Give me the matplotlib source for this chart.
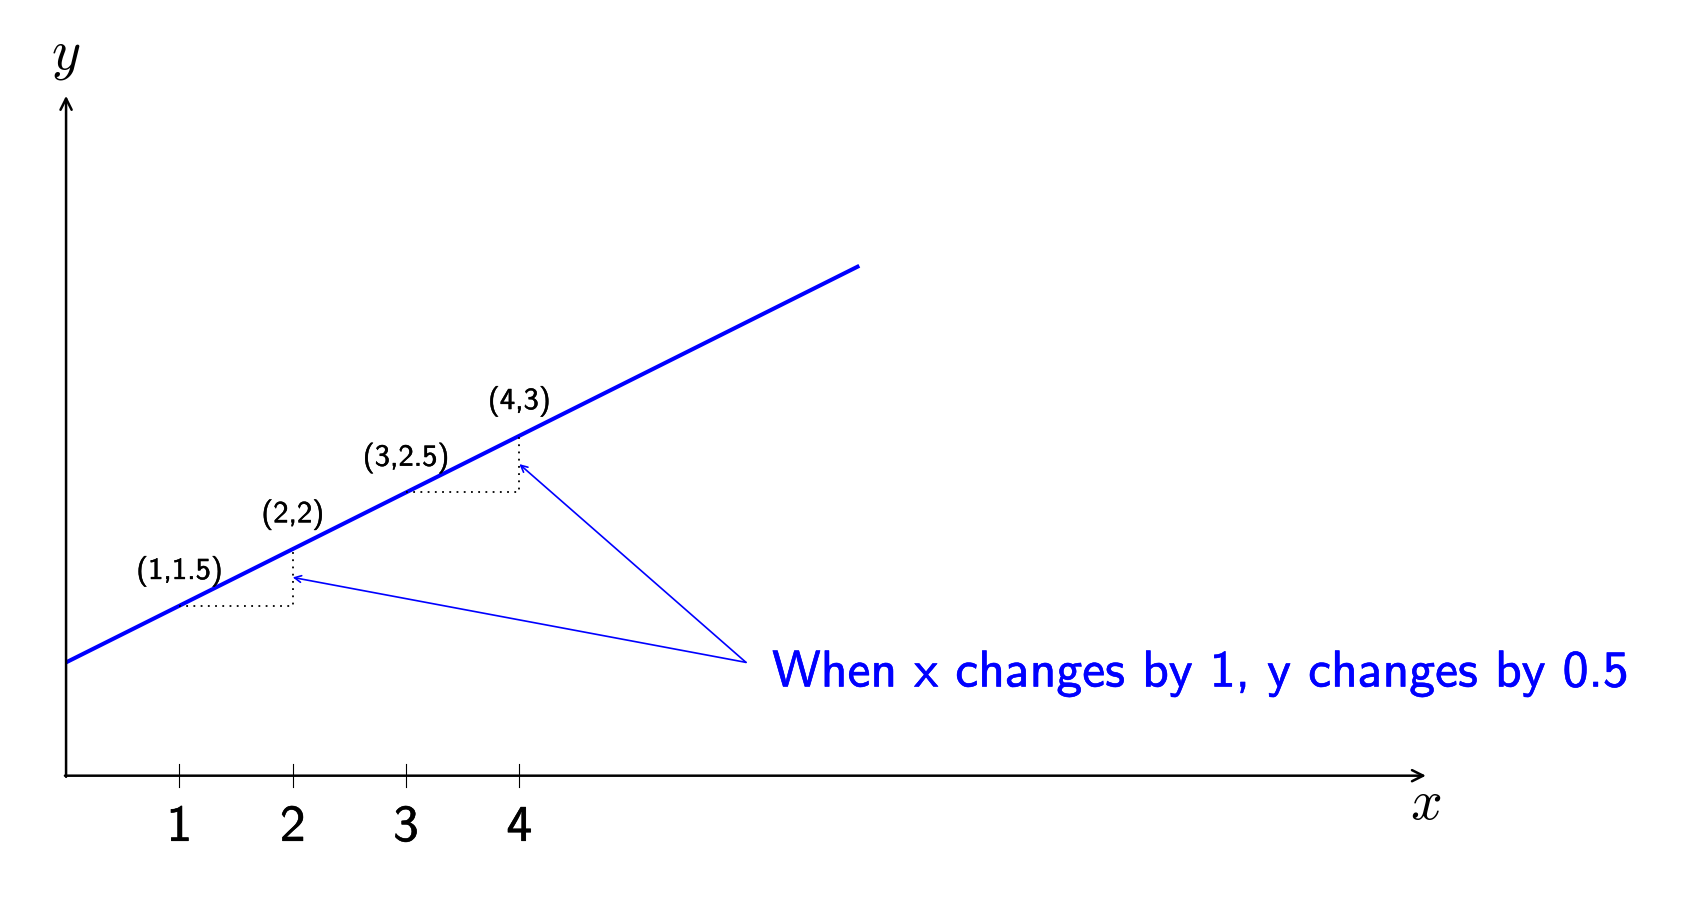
import matplotlib.pyplot as plt
import matplotlib.patheffects as pe

# line y = 0.5x + 1 drawn from x=0 to x=7
line_x = [0, 7]
line_y = [1.0, 4.5]

# labelled points on the line
pts_x = [1, 2, 3, 4]
pts_y = [1.5, 2, 2.5, 3]
pt_labels = ["(1,1.5)", "(2,2)", "(3,2.5)", "(4,3)"]

tick_vals = [1, 2, 3, 4]
tick_labels = ["1", "2", "3", "4"]

# step triangles (start point, end point)
steps = [((1, 1.5), (2, 2)), ((3, 2.5), (4, 3))]

# annotation arrows
note_src = (6, 1)
note_targets = [(2, 1.75), (4, 2.75)]
note_text = "When x changes by 1, y changes by 0.5"

x_max, y_max = 12, 6

BLUE = "#0000ff"
SANS = ["cmss10", "DejaVu Sans"]
plt.rcParams["mathtext.fontset"] = "cm"


def heavy(color, w=0.4):
    # slightly thicker glyphs, closer to the TeX rendering
    return [pe.withStroke(linewidth=w, foreground=color)]


fig = plt.figure(figsize=(16.82, 9.18), dpi=100)
ax = fig.add_axes([0, 0, 1, 1])
ax.set_xlim(-0.583, 14.26)
ax.set_ylim(-1.256, 6.846)
ax.axis("off")

# axes with arrows
ax.annotate("", xy=(x_max, 0), xytext=(-0.01, 0),
            arrowprops=dict(arrowstyle="->", lw=1.8, color="black",
                            shrinkA=0, shrinkB=0, mutation_scale=20))
ax.annotate("", xy=(0, y_max), xytext=(0, -0.01),
            arrowprops=dict(arrowstyle="->", lw=1.8, color="black",
                            shrinkA=0, shrinkB=0, mutation_scale=20))
ax.text(x_max, -0.25, "$x$", fontsize=40, ha="center", va="center")
ax.text(0, 6.36, "$y$", fontsize=40, ha="center", va="center")

# ticks
for t, lab in zip(tick_vals, tick_labels):
    ax.plot([t, t], [-0.1, 0.1], color="black", lw=0.8)
    ax.text(t, -0.46, lab, fontsize=37, ha="center", va="center", family=SANS,
            path_effects=heavy("black"))

# main line
ax.plot(line_x, line_y, color=BLUE, lw=2.9, solid_capstyle="butt")

# dotted steps
for (x0, y0), (x1, y1) in steps:
    ax.plot([x0, x1, x1], [y0, y0, y1], color="black", lw=1.3,
            linestyle=(0, (1, 3)))

# point labels
for px, py, lab in zip(pts_x, pts_y, pt_labels):
    ax.text(px, py + 0.3, lab, fontsize=22, ha="center", va="center", family=SANS,
            path_effects=heavy("black", 0.3))

# arrows to steps
for tx, ty in note_targets:
    ax.annotate("", xy=(tx, ty), xytext=note_src,
                arrowprops=dict(arrowstyle="->", lw=1.2, color=BLUE,
                                shrinkA=0, shrinkB=0, mutation_scale=12))
ax.text(note_src[0] + 0.23, note_src[1] - 0.1, note_text, fontsize=37.2,
        color=BLUE, ha="left", va="center", family=SANS,
        path_effects=heavy(BLUE))

fig.savefig("out.png", dpi=100)
